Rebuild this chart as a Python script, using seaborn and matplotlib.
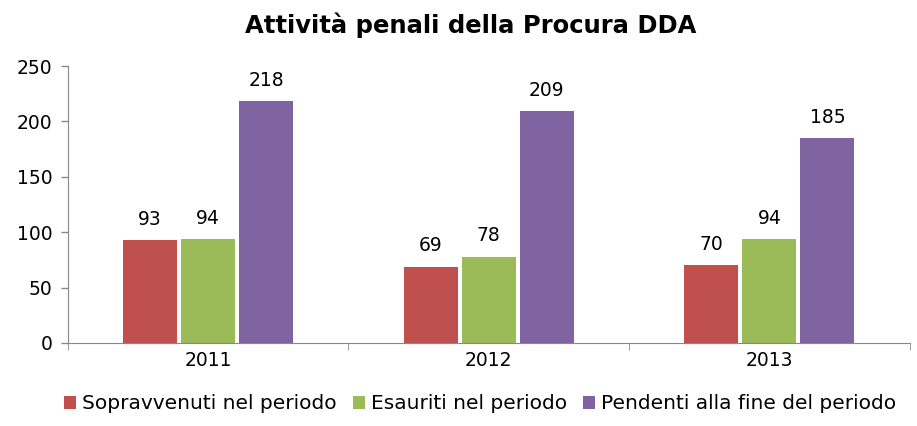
import pandas as pd
import matplotlib.pyplot as plt
import seaborn as sns

years = ["2011", "2012", "2013"]
series = ["Sopravvenuti nel periodo", "Esauriti nel periodo", "Pendenti alla fine del periodo"]
sopravvenuti = [93, 69, 70]
esauriti = [94, 78, 94]
pendenti = [218, 209, 185]
colors = ["#C0504D", "#9BBB59", "#8064A2"]

data = pd.DataFrame({
    "Anno": years * 3,
    "Serie": [s for s in series for _ in years],
    "Valore": sopravvenuti + esauriti + pendenti,
})

sns.set_style("white")
plt.rcParams['font.family'] = ['DejaVu Sans', 'sans-serif']
plt.rcParams['text.color'] = 'black'
plt.rcParams['xtick.color'] = 'black'
plt.rcParams['ytick.color'] = 'black'

fig = plt.figure(figsize=(9.17, 4.26), dpi=100)
ax = fig.add_axes([0.074, 0.195, 0.918, 0.65])

sns.barplot(data=data, x="Anno", y="Valore", hue="Serie", hue_order=series,
            palette=colors, width=0.62, gap=0.07, saturation=1,
            edgecolor="none", linewidth=0, ax=ax)

for c in ax.containers:
    ax.bar_label(c, fmt="%d", padding=8, fontsize=13.5)

ax.set_ylim(0, 250)
ax.set_xlim(-0.5, 2.5)
ax.set_yticks(range(0, 251, 50))
ax.set_xlabel("")
ax.set_ylabel("")
ax.tick_params(axis="both", labelsize=13.5, length=0, pad=6)
ax.tick_params(axis="y", left=True, length=5, color="#888888", width=1)
ax.set_xticks([-0.5, 0.5, 1.5, 2.5], minor=True)
ax.tick_params(axis="x", which="minor", bottom=True, length=5, color="#888888")
for side in ["top", "right"]:
    ax.spines[side].set_visible(False)
for side in ["left", "bottom"]:
    ax.spines[side].set_color("#888888")

ax.set_title("Attività penali della Procura DDA", fontsize=17.5, fontweight="bold",
             pad=24, x=0.479)

ax.legend(loc="upper center", bbox_to_anchor=(0.49, -0.12), ncol=3, frameon=False,
          fontsize=14.5, handlelength=0.6, handleheight=0.6, handletextpad=0.3,
          columnspacing=0.8)

plt.savefig("out.png", dpi=100)
